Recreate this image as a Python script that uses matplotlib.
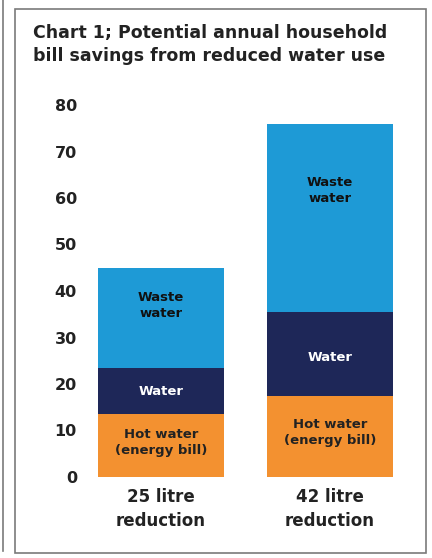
import matplotlib
matplotlib.use("Agg")
import matplotlib.pyplot as plt
from matplotlib.patches import Rectangle
from matplotlib.lines import Line2D

categories = ["25 litre\nreduction", "42 litre\nreduction"]
hot_water = [13.5, 17.5]
water = [10.0, 18.0]
waste_water = [21.5, 40.5]
yticks = [0, 10, 20, 30, 40, 50, 60, 70, 80]

segment_names = ["Hot water\n(energy bill)", "Water", "Waste\nwater"]
segment_colors = ["#F39130", "#1E2758", "#1E9AD6"]
label_colors = ["#222222", "white", "#111111"]
label_y = [[7.5, 18.3, 36.8], [9.5, 25.8, 61.7]]

W, H = 432, 558
plt.rcParams["font.family"] = ["DejaVu Sans"]
fig = plt.figure(figsize=(W / 100, H / 100), dpi=100)

def px(x, y):
    return x / W, 1 - y / H

# plot area: 0 at y=477px, 80 at y=105px
ax_left, ax_right = 88, 420
x0 = -73 / 169
x1 = (ax_right - 161) / 169
ax = fig.add_axes([ax_left / W, (H - 477) / H, (ax_right - ax_left) / W, (477 - 105) / H])
ax.set_xlim(x0, x1)
ax.set_ylim(0, 80)

xs = list(range(len(categories)))
bottom = [0.0] * len(categories)
for series, color in zip([hot_water, water, waste_water], segment_colors):
    ax.bar(xs, series, width=0.746, bottom=bottom, color=color, edgecolor="none")
    bottom = [b + v for b, v in zip(bottom, series)]

for i in xs:
    for j, name in enumerate(segment_names):
        ax.text(i, label_y[i][j], name, ha="center", va="center",
                fontsize=9.5, fontweight="bold", color=label_colors[j],
                linespacing=1.3)

for s in ax.spines.values():
    s.set_visible(False)
ax.set_yticks(yticks)
ax.set_yticklabels([str(t) for t in yticks], fontsize=11.5, fontweight="bold", color="#222222")
ax.set_xticks(xs)
ax.set_xticklabels(categories, fontsize=12, fontweight="bold", color="#222222", linespacing=1.4)
ax.tick_params(axis="y", length=0, pad=8)
ax.tick_params(axis="x", length=0, pad=8)

fig.text(33 / W, 1 - 24 / H,
         "Chart 1; Potential annual household\nbill savings from reduced water use",
         ha="left", va="top", fontsize=12.5, fontweight="bold", color="#222222",
         linespacing=1.35)

# frame
frame_color = "#7a7a7a"
fig.patches.append(Rectangle(px(15, 553), (426 - 15) / W, (553 - 9) / H,
                             transform=fig.transFigure, fill=False,
                             edgecolor=frame_color, linewidth=1.2))
fig.lines.append(Line2D([3 / W, 3 / W], [1 - 551 / H, 1.0], transform=fig.transFigure,
                        color=frame_color, linewidth=1.2))

fig.savefig("out.png", dpi=100)
